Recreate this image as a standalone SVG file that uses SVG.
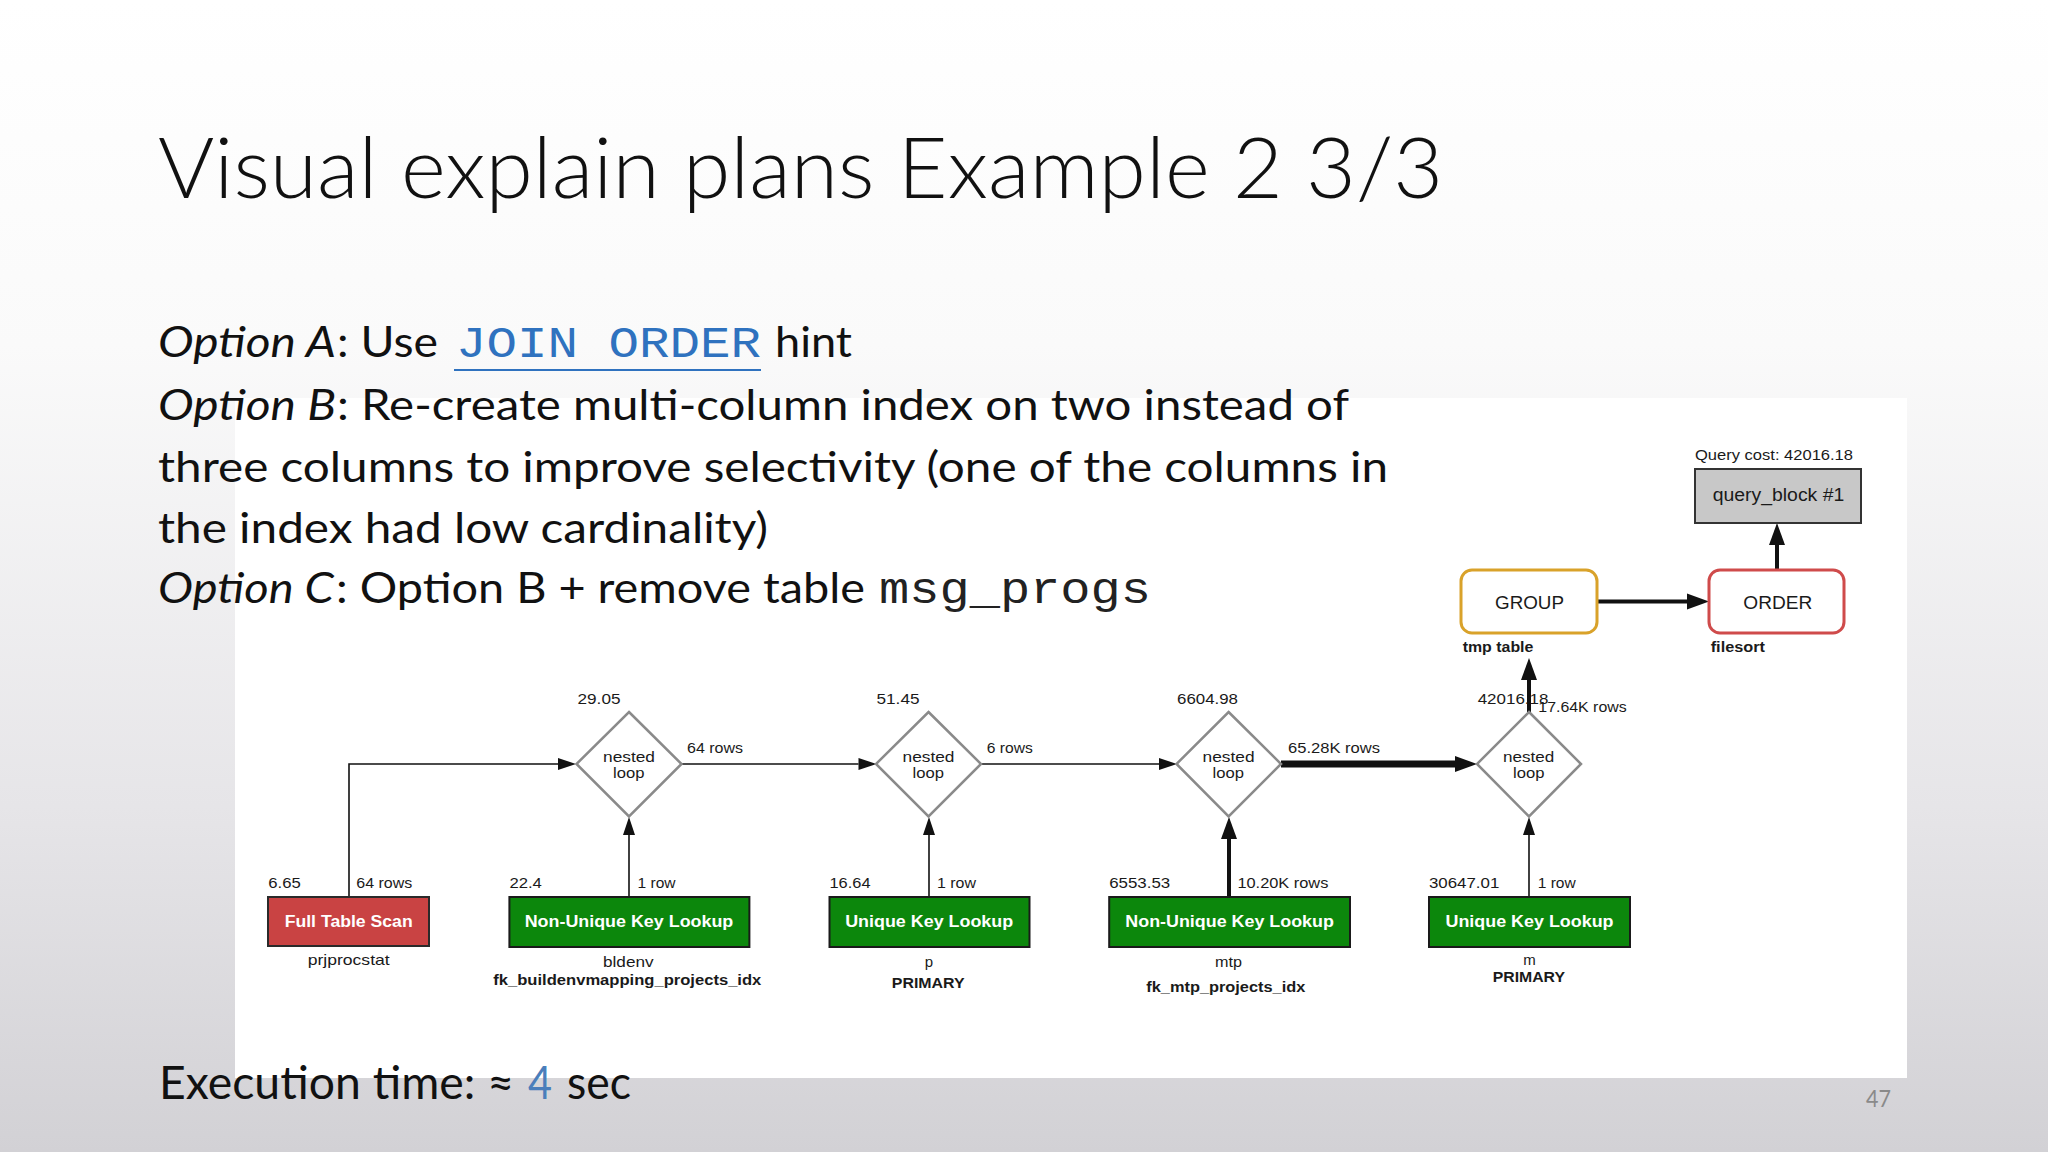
<svg xmlns="http://www.w3.org/2000/svg" width="2048" height="1152" viewBox="0 0 2048 1152">
<defs>
<linearGradient id="bg" x1="0" y1="0" x2="0" y2="1">
<stop offset="0" stop-color="#ffffff"/>
<stop offset="0.3" stop-color="#fafafa"/>
<stop offset="0.7" stop-color="#e6e5e8"/>
<stop offset="1" stop-color="#d2d1d5"/>
</linearGradient>
<marker id="ah" markerUnits="userSpaceOnUse" markerWidth="18" markerHeight="12" refX="0" refY="6" orient="auto" overflow="visible">
<path d="M0,0 L18,6 L0,12 z" fill="#111"/>
</marker>
<marker id="ahb" markerUnits="userSpaceOnUse" markerWidth="22" markerHeight="16" refX="0" refY="8" orient="auto" overflow="visible">
<path d="M0,0 L22,8 L0,16 z" fill="#111"/>
</marker>
<style>
.slide{font-family:Lato,"Open Sans","Noto Sans",sans-serif;fill:#111}
.it{font-style:italic}
.mono{font-family:"Liberation Mono","DejaVu Sans Mono",monospace}
.d{font-family:"Liberation Sans",Arial,sans-serif;fill:#1a1a1a;font-size:14px}
.db{font-weight:bold}
.bl{font-size:16px;font-weight:bold;fill:#ffffff}
.nl{font-size:15px}
.big{font-size:18px}
.dia{fill:#ffffff;stroke:#8a8a8a;stroke-width:2.5}
.red{fill:#c94343;stroke:#2a2a2a;stroke-width:2}
.grn{fill:#0c870c;stroke:#1a1a1a;stroke-width:2}
.thin{fill:none;stroke:#111;stroke-width:1.6;marker-end:url(#ah)}
.thick{fill:none;stroke:#111;stroke-width:4;marker-end:url(#ahb)}
</style>
</defs>
<rect width="2048" height="1152" fill="url(#bg)"/>
<rect x="235" y="398" width="1672" height="680" fill="#ffffff"/>

<g id="slide-text" class="slide">
<text x="158" y="198" font-size="84" font-weight="300" textLength="1285" lengthAdjust="spacingAndGlyphs">Visual explain plans Example 2 3/3</text>
<text class="it" x="158" y="357" font-size="43" textLength="178" lengthAdjust="spacingAndGlyphs">Option A</text>
<text x="337" y="357" font-size="43" textLength="101" lengthAdjust="spacingAndGlyphs">: Use</text>
<text class="mono" x="456" y="357" font-size="45" fill="#2f72bf" textLength="305" lengthAdjust="spacingAndGlyphs">JOIN ORDER</text>
<line x1="454" y1="370" x2="761" y2="370" stroke="#2f72bf" stroke-width="2.2"/>
<text x="775" y="357" font-size="43" textLength="77" lengthAdjust="spacingAndGlyphs">hint</text>
<text class="it" x="158" y="420" font-size="43" textLength="178" lengthAdjust="spacingAndGlyphs">Option B</text>
<text x="337" y="420" font-size="43" textLength="1012" lengthAdjust="spacingAndGlyphs">: Re-create multi-column index on two instead of</text>
<text x="158" y="482" font-size="43" textLength="1230" lengthAdjust="spacingAndGlyphs">three columns to improve selectivity (one of the columns in</text>
<text x="158" y="543" font-size="43" textLength="610" lengthAdjust="spacingAndGlyphs">the index had low cardinality)</text>
<text class="it" x="158" y="603" font-size="43" textLength="176" lengthAdjust="spacingAndGlyphs">Option C</text>
<text x="336" y="603" font-size="43" textLength="529" lengthAdjust="spacingAndGlyphs">: Option B + remove table</text>
<text class="mono" x="879" y="603" font-size="45" fill="#222" textLength="272" lengthAdjust="spacingAndGlyphs">msg_progs</text>
<text x="159" y="1099" font-size="46" textLength="355" lengthAdjust="spacingAndGlyphs">Execution time: ≈</text>
<text x="528" y="1099" font-size="46" fill="#4a7ebb" textLength="24" lengthAdjust="spacingAndGlyphs">4</text>
<text x="567" y="1099" font-size="46" textLength="64" lengthAdjust="spacingAndGlyphs">sec</text>
<text x="1866" y="1107" font-size="23" fill="#8a8a8a" textLength="25" lengthAdjust="spacingAndGlyphs">47</text>
</g>

<g id="connectors">
<path class="thin" d="M349,897 V764 H558"/>
<path class="thin" d="M629,897 V835"/>
<path class="thin" d="M682,764 H858.5"/>
<path class="thin" d="M929,897 V835"/>
<path class="thin" d="M981,764 H1159"/>
<path class="thick" d="M1229,897 V839"/>
<path class="thick" style="stroke-width:7" d="M1281,764 H1455"/>
<path class="thin" d="M1529,897 V835"/>
<path class="thick" d="M1529,712 V680"/>
<path class="thick" d="M1597,601.5 H1687"/>
<path class="thick" d="M1777,570 V545"/>
</g>

<g id="query-block" class="d">
<text x="1695" y="460" textLength="158" lengthAdjust="spacingAndGlyphs">Query cost: 42016.18</text>
<rect x="1695" y="469" width="166" height="54" fill="#c8c8c8" stroke="#333" stroke-width="2"/>
<text class="big" x="1712.7" y="501" textLength="131.6" lengthAdjust="spacingAndGlyphs">query_block #1</text>
</g>

<g id="order" class="d">
<rect x="1709" y="570" width="135" height="63" rx="11" fill="#ffffff" stroke="#cf4b4b" stroke-width="3"/>
<text class="big" x="1743.3" y="609" textLength="69" lengthAdjust="spacingAndGlyphs">ORDER</text>
<text class="db" x="1710.7" y="652" textLength="54.3" lengthAdjust="spacingAndGlyphs">filesort</text>
</g>

<g id="group" class="d">
<rect x="1461" y="570" width="136" height="63" rx="11" fill="#ffffff" stroke="#d9a22a" stroke-width="3"/>
<text class="big" x="1495" y="609" textLength="69" lengthAdjust="spacingAndGlyphs">GROUP</text>
<text class="db" x="1462.7" y="652" textLength="70.7" lengthAdjust="spacingAndGlyphs">tmp table</text>
</g>

<g id="nested-loop-1" class="d">
<path class="dia" d="M629,712 L681.5,764 L629,816.5 L576.5,764 z"/>
<text x="577.5" y="704" textLength="43" lengthAdjust="spacingAndGlyphs">29.05</text>
<text class="nl" x="603" y="762" textLength="52" lengthAdjust="spacingAndGlyphs">nested</text>
<text class="nl" x="613" y="778" textLength="31.4" lengthAdjust="spacingAndGlyphs">loop</text>
<text x="687" y="753" textLength="56" lengthAdjust="spacingAndGlyphs">64 rows</text>
</g>

<g id="nested-loop-2" class="d">
<path class="dia" d="M928.5,712 L981,764 L928.5,816.5 L876,764 z"/>
<text x="876.5" y="704" textLength="43" lengthAdjust="spacingAndGlyphs">51.45</text>
<text class="nl" x="902.5" y="762" textLength="52" lengthAdjust="spacingAndGlyphs">nested</text>
<text class="nl" x="912.5" y="778" textLength="31.4" lengthAdjust="spacingAndGlyphs">loop</text>
<text x="986.8" y="753" textLength="46" lengthAdjust="spacingAndGlyphs">6 rows</text>
</g>

<g id="nested-loop-3" class="d">
<path class="dia" d="M1228.6,712 L1281,764 L1228.6,816.5 L1176.5,764 z"/>
<text x="1177" y="704" textLength="61" lengthAdjust="spacingAndGlyphs">6604.98</text>
<text class="nl" x="1202.6" y="762" textLength="52" lengthAdjust="spacingAndGlyphs">nested</text>
<text class="nl" x="1212.6" y="778" textLength="31.4" lengthAdjust="spacingAndGlyphs">loop</text>
<text x="1288" y="753" textLength="92" lengthAdjust="spacingAndGlyphs">65.28K rows</text>
</g>

<g id="nested-loop-4" class="d">
<path class="dia" d="M1529,712 L1581,764 L1529,816.5 L1477,764 z"/>
<text x="1477.7" y="704" textLength="70.7" lengthAdjust="spacingAndGlyphs">42016.18</text>
<text x="1538.3" y="712" textLength="88.4" lengthAdjust="spacingAndGlyphs">17.64K rows</text>
<text class="nl" x="1503" y="762" textLength="51.3" lengthAdjust="spacingAndGlyphs">nested</text>
<text class="nl" x="1513" y="778" textLength="31.4" lengthAdjust="spacingAndGlyphs">loop</text>
</g>

<g id="full-table-scan" class="d">
<text x="268.3" y="888" textLength="32.5" lengthAdjust="spacingAndGlyphs">6.65</text>
<text x="356.3" y="888" textLength="56" lengthAdjust="spacingAndGlyphs">64 rows</text>
<rect class="red" x="268" y="897" width="161" height="49"/>
<text class="bl" x="284.7" y="927" textLength="128" lengthAdjust="spacingAndGlyphs">Full Table Scan</text>
<text class="nl" x="307.7" y="965" textLength="82" lengthAdjust="spacingAndGlyphs">prjprocstat</text>
</g>

<g id="lookup-bldenv" class="d">
<text x="509.4" y="888" textLength="32.5" lengthAdjust="spacingAndGlyphs">22.4</text>
<text x="637.6" y="888" textLength="38" lengthAdjust="spacingAndGlyphs">1 row</text>
<rect class="grn" x="509.4" y="897" width="240" height="50"/>
<text class="bl" x="524.7" y="927" textLength="208.6" lengthAdjust="spacingAndGlyphs">Non-Unique Key Lookup</text>
<text class="nl" x="603" y="967" textLength="50.6" lengthAdjust="spacingAndGlyphs">bldenv</text>
<text class="db" x="493.3" y="985" textLength="268" lengthAdjust="spacingAndGlyphs">fk_buildenvmapping_projects_idx</text>
</g>

<g id="lookup-p" class="d">
<text x="829.5" y="888" textLength="41" lengthAdjust="spacingAndGlyphs">16.64</text>
<text x="937" y="888" textLength="39" lengthAdjust="spacingAndGlyphs">1 row</text>
<rect class="grn" x="829.5" y="897" width="200" height="50"/>
<text class="bl" x="845.2" y="927" textLength="168" lengthAdjust="spacingAndGlyphs">Unique Key Lookup</text>
<text class="nl" x="929" y="967" text-anchor="middle">p</text>
<text class="db" x="891.8" y="988" textLength="72.8" lengthAdjust="spacingAndGlyphs">PRIMARY</text>
</g>

<g id="lookup-mtp" class="d">
<text x="1109.2" y="888" textLength="61" lengthAdjust="spacingAndGlyphs">6553.53</text>
<text x="1237.4" y="888" textLength="91" lengthAdjust="spacingAndGlyphs">10.20K rows</text>
<rect class="grn" x="1109.2" y="897" width="240.8" height="50"/>
<text class="bl" x="1125.3" y="927" textLength="208.6" lengthAdjust="spacingAndGlyphs">Non-Unique Key Lookup</text>
<text class="nl" x="1215" y="967" textLength="27" lengthAdjust="spacingAndGlyphs">mtp</text>
<text class="db" x="1146.3" y="991.7" textLength="159" lengthAdjust="spacingAndGlyphs">fk_mtp_projects_idx</text>
</g>

<g id="lookup-m" class="d">
<text x="1429" y="888" textLength="70.3" lengthAdjust="spacingAndGlyphs">30647.01</text>
<text x="1537.7" y="888" textLength="38" lengthAdjust="spacingAndGlyphs">1 row</text>
<rect class="grn" x="1429" y="897" width="201" height="50"/>
<text class="bl" x="1445.5" y="927" textLength="168" lengthAdjust="spacingAndGlyphs">Unique Key Lookup</text>
<text class="nl" x="1529.5" y="965" text-anchor="middle">m</text>
<text class="db" x="1492.7" y="982" textLength="72.3" lengthAdjust="spacingAndGlyphs">PRIMARY</text>
</g>
</svg>
